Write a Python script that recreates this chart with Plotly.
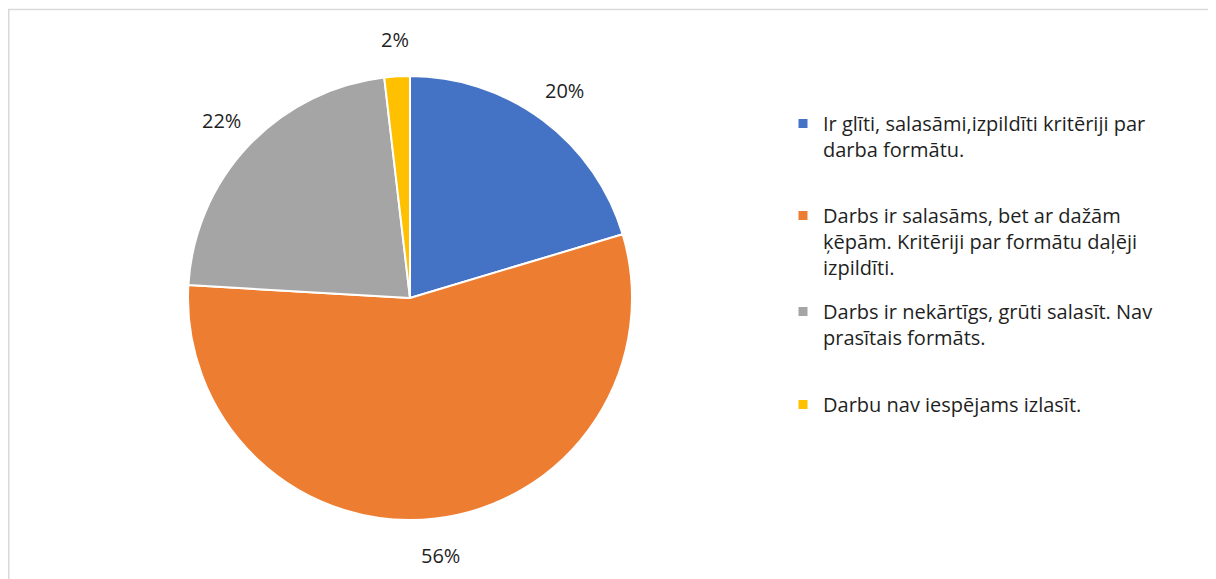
import numpy as np
import plotly.graph_objects as go

# ---- data ----
categories = [
    "Ir glīti, salasāmi,izpildīti kritēriji par darba formātu.",
    "Darbs ir salasāms, bet ar dažām ķēpām. Kritēriji par formātu daļēji izpildīti.",
    "Darbs ir nekārtīgs, grūti salasīt. Nav prasītais formāts.",
    "Darbu nav iespējams izlasīt.",
]
legend_lines = [
    ["Ir glīti, salasāmi,izpildīti kritēriji par", "darba formātu."],
    ["Darbs ir salasāms, bet ar dažām", "ķēpām. Kritēriji par formātu daļēji", "izpildīti."],
    ["Darbs ir nekārtīgs, grūti salasīt. Nav", "prasītais formāts."],
    ["Darbu nav iespējams izlasīt."],
]
counts = [11, 30, 12, 1]
colors = ["#4472C4", "#ED7D31", "#A5A5A5", "#FFC000"]

W, H = 1216, 579
FONT = "Open Sans"
TEXT_COLOR = "#1F1F1F"

fig = go.Figure()

# pie centre / radius in px (figure coordinates)
cx, cy, r = 402, 290, 222
fig.add_trace(go.Pie(
    labels=categories,
    values=counts,
    sort=False,
    direction="clockwise",
    rotation=0,
    marker=dict(colors=colors, line=dict(color="white", width=2)),
    textinfo="none",
    showlegend=False,
    domain=dict(x=[(cx - r) / W, (cx + r) / W], y=[1 - (cy + r) / H, 1 - (cy - r) / H]),
))

# percentage labels placed outside each slice at its mid-angle
vals = np.array(counts, dtype=float)
frac = vals / vals.sum()
mid = (np.cumsum(frac) - frac / 2) * 2 * np.pi
label_r = r + 37
annotations = []
for f, a in zip(frac, mid):
    px = cx + label_r * np.sin(a)
    py = cy - label_r * np.cos(a)
    annotations.append(dict(
        x=px / W, y=1 - py / H, xref="paper", yref="paper",
        text=f"{f:.0%}", showarrow=False,
        xanchor="center", yanchor="middle",
        font=dict(family=FONT, size=20, color=TEXT_COLOR),
    ))

# legend entries, each in its own legend so spacing can match
legend_tops = [96, 188, 284, 377]
legend_left = 775
for i, (lines, col) in enumerate(zip(legend_lines, colors)):
    key = "legend" if i == 0 else f"legend{i+1}"
    fig.add_trace(go.Scatter(
        x=[None], y=[None], mode="markers",
        marker=dict(symbol="square", size=9, color=col),
        name="<br>".join(lines),
        legend=key,
        showlegend=True,
        hoverinfo="skip",
    ))
    fig.layout[key] = dict(
        x=legend_left / W, y=1 - legend_tops[i] / H,
        xanchor="left", yanchor="top",
        valign="top",
        font=dict(family=FONT, size=20, color=TEXT_COLOR),
        bgcolor="rgba(0,0,0,0)",
        itemclick=False, itemdoubleclick=False,
    )

fig.update_layout(
    width=W, height=H,
    margin=dict(l=0, r=0, t=0, b=0),
    paper_bgcolor="white",
    plot_bgcolor="white",
    xaxis=dict(visible=False),
    yaxis=dict(visible=False),
    annotations=annotations,
    shapes=[dict(
        type="rect", xref="paper", yref="paper",
        x0=0.75 / W, x1=1207 / W, y0=-0.05, y1=1 - 1.5 / H,
        line=dict(color="#D9D9D9", width=1.5),
        fillcolor="rgba(0,0,0,0)",
    )],
)

fig.write_html("out.html")
